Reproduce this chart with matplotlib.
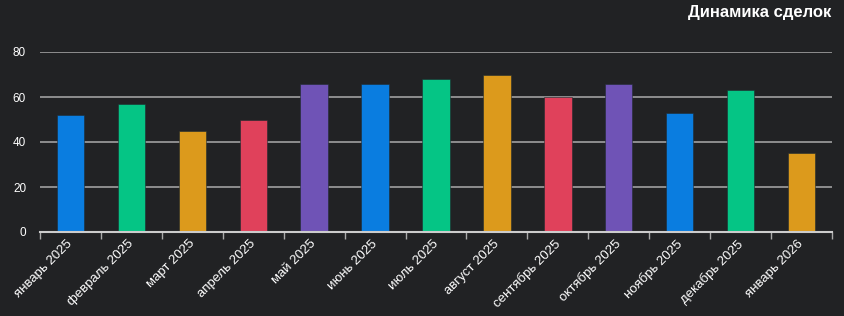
import matplotlib
matplotlib.use("Agg")
import matplotlib.pyplot as plt
import matplotlib.transforms as mtransforms
import numpy as np

categories = ["январь 2025", "февраль 2025", "март 2025", "апрель 2025", "май 2025",
              "июнь 2025", "июль 2025", "август 2025", "сентябрь 2025", "октябрь 2025",
              "ноябрь 2025", "декабрь 2025", "январь 2026"]
values = [52, 57, 45, 50, 66, 66, 68, 70, 60, 66, 53, 63, 35]
palette = ["#0a7de0", "#05c585", "#dc9a1c", "#e0415b", "#6f53b6"]
colors = [palette[i % len(palette)] for i in range(len(values))]
yticks = [0, 20, 40, 60, 80]
title = "Динамика сделок"

bg = "#212224"
plt.rcParams['font.family'] = ['Liberation Sans', 'DejaVu Sans']

fig = plt.figure(figsize=(8.45, 3.16), dpi=100, facecolor=bg)
ax = fig.add_axes([40/845, 1-232/316, 792/845, 180/316])
ax.set_facecolor(bg)

x = np.arange(len(categories))
ax.bar(x, values, width=0.45, color=colors, edgecolor="#1f2a30", linewidth=0.4, zorder=2)

ax.set_xlim(-0.5, len(categories)-0.5)
ax.set_ylim(0, 80)
ax.set_yticks(yticks)
ax.set_yticklabels([str(t) for t in yticks], color="white", fontsize=8.5)
ax.yaxis.grid(True, color="#a0a0a0", linewidth=1.2, zorder=1)
ax.tick_params(axis='y', length=0, pad=10)

ax.set_xticks(x)
ax.set_xticklabels(categories, rotation=45, ha='right', va='top', rotation_mode='anchor',
                   color="white", fontsize=9.5)
ax.set_xticks(np.arange(-0.5, len(categories)), minor=True)
ax.tick_params(axis='x', which='major', length=0, pad=4)
ax.tick_params(axis='x', which='minor', length=5, color="#aaaaaa", width=1)
offset = mtransforms.ScaledTranslation(-4/100, 0, fig.dpi_scale_trans)
for lbl in ax.get_xticklabels():
    lbl.set_transform(lbl.get_transform() + offset)

for s in ['top', 'right', 'left']:
    ax.spines[s].set_visible(False)
ax.spines['bottom'].set_color("#cccccc")
ax.spines['bottom'].set_linewidth(1.5)

fig.text(831/845, 1-12/316, title, ha='right', va='center', color='white',
         fontsize=12, fontweight='bold')

fig.savefig("out.png", dpi=100, facecolor=bg)
